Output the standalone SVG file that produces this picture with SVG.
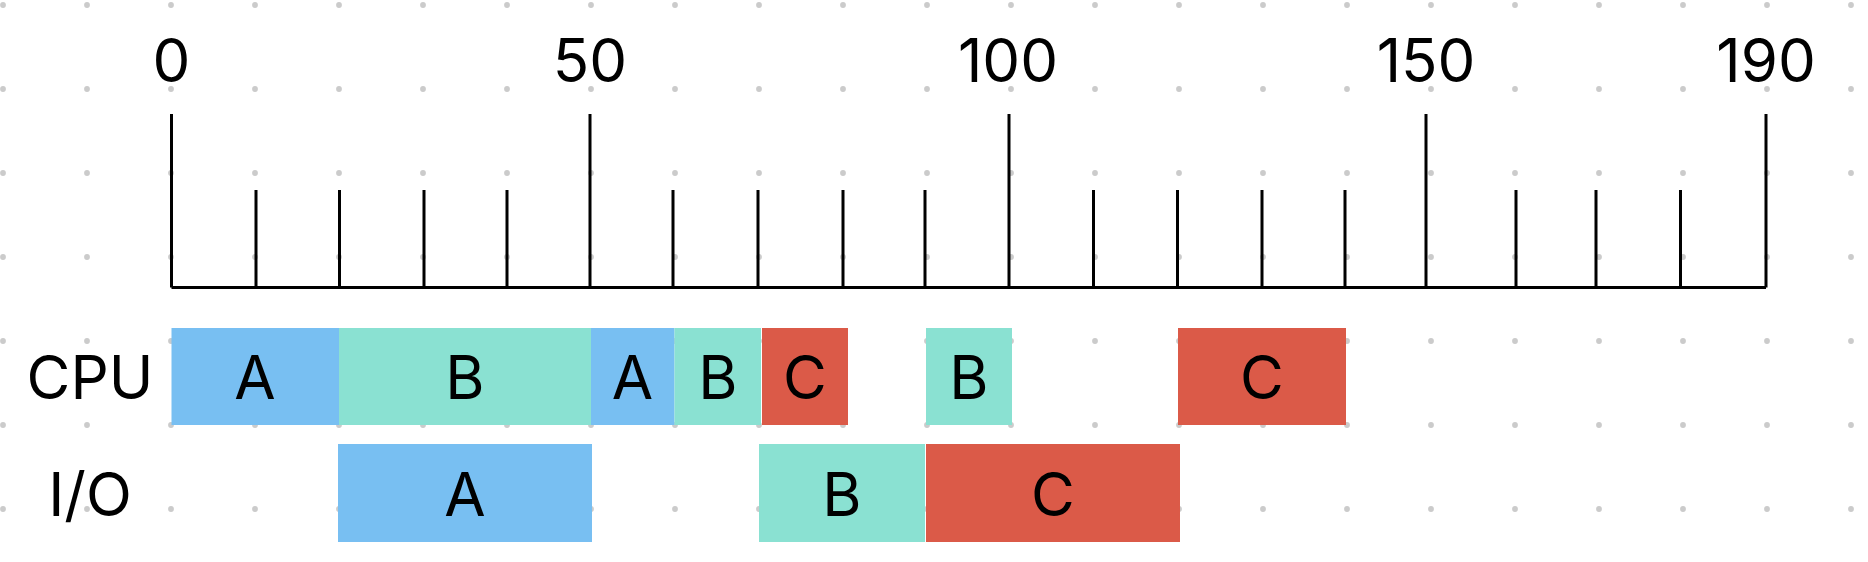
<svg xmlns="http://www.w3.org/2000/svg" width="1868" height="562" viewBox="0 0 1868 562">
<defs>
<style>
.dot{fill:#cbcbcb}
.ax{stroke:#000;stroke-width:3;fill:none}
.t{font-family:Inter,"Liberation Sans",sans-serif;font-size:60px;fill:#000;text-anchor:middle}
.a{fill:#78bff2}
.b{fill:#8ae1d2}
.c{fill:#db5a48}
</style>
<pattern id="grid" x="3" y="5" width="84" height="84" patternUnits="userSpaceOnUse">
<circle class="dot" cx="0" cy="0" r="2.9"/><circle class="dot" cx="84" cy="0" r="2.9"/><circle class="dot" cx="0" cy="84" r="2.9"/><circle class="dot" cx="84" cy="84" r="2.9"/>
</pattern>
</defs>
<rect width="1868" height="562" fill="#fff"/>
<rect width="1868" height="562" fill="url(#grid)"/>
<g id="axis">
<path class="ax" d="M171.5 287.5H1766M171.5 114V287.5M590 114V287.5M1009 114V287.5M1426 114V287.5M1766 114V287.5M256 190V287.5M339.5 190V287.5M424 190V287.5M507 190V287.5M673 190V287.5M758 190V287.5M843 190V287.5M925 190V287.5M1093.5 190V287.5M1177.5 190V287.5M1262 190V287.5M1345 190V287.5M1516 190V287.5M1596 190V287.5M1680.5 190V287.5"/>
<text class="t" x="171.5" y="82">0</text>
<text class="t" x="590" y="82">50</text>
<text class="t" x="1008" y="82">100</text>
<text class="t" x="1426" y="82">150</text>
<text class="t" x="1766" y="82">190</text>
</g>
<g id="row-labels">
<text class="t" x="90" y="399">CPU</text>
<text class="t" x="90" y="516">I/O</text>
</g>
<g id="cpu">
<g id="cpu-a1"><rect class="a" x="171.5" y="328" width="167.5" height="97"/><text class="t" x="255" y="399">A</text></g>
<g id="cpu-b1"><rect class="b" x="339" y="328" width="252" height="97"/><text class="t" x="465" y="399">B</text></g>
<g id="cpu-a2"><rect class="a" x="591" y="328" width="83.5" height="97"/><text class="t" x="632.5" y="399">A</text></g>
<g id="cpu-b2"><rect class="b" x="674.5" y="328" width="86.5" height="97"/><text class="t" x="718" y="399">B</text></g>
<g id="cpu-c1"><rect class="c" x="762" y="328" width="86" height="97"/><text class="t" x="805" y="399">C</text></g>
<g id="cpu-b3"><rect class="b" x="926" y="328" width="86" height="97"/><text class="t" x="969" y="399">B</text></g>
<g id="cpu-c2"><rect class="c" x="1178" y="328" width="168" height="97"/><text class="t" x="1262" y="399">C</text></g>
</g>
<g id="io">
<g id="io-a"><rect class="a" x="338" y="444" width="254" height="98"/><text class="t" x="465" y="516">A</text></g>
<g id="io-b"><rect class="b" x="759" y="444" width="166" height="98"/><text class="t" x="842" y="516">B</text></g>
<g id="io-c"><rect class="c" x="926" y="444" width="254" height="98"/><text class="t" x="1053" y="516">C</text></g>
</g>
</svg>
